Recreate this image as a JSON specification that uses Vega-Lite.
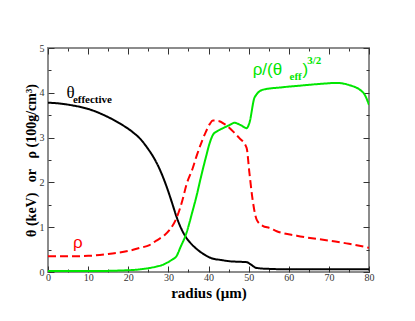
{
  "$schema": "https://vega.github.io/schema/vega-lite/v6.json",
  "width": 321,
  "height": 224,
  "autosize": "none",
  "padding": {"left": 48, "top": 48, "right": 46, "bottom": 49},
  "background": "white",
  "config": {
    "view": {"stroke": "#8c8c8c", "strokeWidth": 2},
    "axis": {"grid": false, "domain": false, "tickColor": "#333", "labelColor": "#333", "labelFont": "Liberation Serif", "labelFontSize": 10, "titleFont": "Liberation Serif", "titleFontWeight": "bold", "titleColor": "black"}
  },
  "datasets": {
    "curves": [
      {"series": "theta", "r": 0, "v": 3.78}, {"series": "theta", "r": 3, "v": 3.76}, {"series": "theta", "r": 6, "v": 3.72}, {"series": "theta", "r": 10, "v": 3.64}, {"series": "theta", "r": 14, "v": 3.5}, {"series": "theta", "r": 18, "v": 3.31}, {"series": "theta", "r": 21, "v": 3.13}, {"series": "theta", "r": 23, "v": 2.97}, {"series": "theta", "r": 25, "v": 2.74}, {"series": "theta", "r": 26.5, "v": 2.53}, {"series": "theta", "r": 28, "v": 2.26}, {"series": "theta", "r": 29.5, "v": 1.92}, {"series": "theta", "r": 31, "v": 1.52}, {"series": "theta", "r": 32, "v": 1.24}, {"series": "theta", "r": 33, "v": 1.01}, {"series": "theta", "r": 34.5, "v": 0.76}, {"series": "theta", "r": 36, "v": 0.6}, {"series": "theta", "r": 37.8, "v": 0.46}, {"series": "theta", "r": 39.5, "v": 0.36}, {"series": "theta", "r": 41, "v": 0.3}, {"series": "theta", "r": 43, "v": 0.27}, {"series": "theta", "r": 45.3, "v": 0.24}, {"series": "theta", "r": 47, "v": 0.23}, {"series": "theta", "r": 49.5, "v": 0.22}, {"series": "theta", "r": 50.5, "v": 0.17}, {"series": "theta", "r": 52, "v": 0.09}, {"series": "theta", "r": 55, "v": 0.07}, {"series": "theta", "r": 60, "v": 0.06}, {"series": "theta", "r": 70, "v": 0.06}, {"series": "theta", "r": 80, "v": 0.06},
      {"series": "rho", "r": 0, "v": 0.35}, {"series": "rho", "r": 5, "v": 0.35}, {"series": "rho", "r": 10, "v": 0.36}, {"series": "rho", "r": 15, "v": 0.4}, {"series": "rho", "r": 20, "v": 0.47}, {"series": "rho", "r": 23, "v": 0.54}, {"series": "rho", "r": 25.3, "v": 0.6}, {"series": "rho", "r": 27, "v": 0.7}, {"series": "rho", "r": 29, "v": 0.82}, {"series": "rho", "r": 30.3, "v": 0.94}, {"series": "rho", "r": 32, "v": 1.2}, {"series": "rho", "r": 33.5, "v": 1.6}, {"series": "rho", "r": 34.5, "v": 1.95}, {"series": "rho", "r": 36, "v": 2.3}, {"series": "rho", "r": 37, "v": 2.58}, {"series": "rho", "r": 38.5, "v": 2.95}, {"series": "rho", "r": 39.4, "v": 3.14}, {"series": "rho", "r": 40.3, "v": 3.3}, {"series": "rho", "r": 41.1, "v": 3.38}, {"series": "rho", "r": 42.5, "v": 3.37}, {"series": "rho", "r": 44, "v": 3.3}, {"series": "rho", "r": 45.3, "v": 3.21}, {"series": "rho", "r": 46.5, "v": 3.1}, {"series": "rho", "r": 47.7, "v": 2.99}, {"series": "rho", "r": 49.5, "v": 2.77}, {"series": "rho", "r": 50.2, "v": 2.21}, {"series": "rho", "r": 51, "v": 1.61}, {"series": "rho", "r": 52, "v": 1.17}, {"series": "rho", "r": 53.5, "v": 1.03}, {"series": "rho", "r": 55.3, "v": 0.98}, {"series": "rho", "r": 57, "v": 0.91}, {"series": "rho", "r": 62, "v": 0.81}, {"series": "rho", "r": 70, "v": 0.7}, {"series": "rho", "r": 75, "v": 0.63}, {"series": "rho", "r": 80, "v": 0.54},
      {"series": "ratio", "r": 0, "v": 0.02}, {"series": "ratio", "r": 10, "v": 0.02}, {"series": "ratio", "r": 20, "v": 0.04}, {"series": "ratio", "r": 23, "v": 0.06}, {"series": "ratio", "r": 25.3, "v": 0.09}, {"series": "ratio", "r": 27, "v": 0.12}, {"series": "ratio", "r": 28.6, "v": 0.16}, {"series": "ratio", "r": 29.5, "v": 0.2}, {"series": "ratio", "r": 31, "v": 0.28}, {"series": "ratio", "r": 32, "v": 0.35}, {"series": "ratio", "r": 33, "v": 0.55}, {"series": "ratio", "r": 34.5, "v": 0.87}, {"series": "ratio", "r": 36, "v": 1.35}, {"series": "ratio", "r": 37, "v": 1.69}, {"series": "ratio", "r": 38.2, "v": 2.15}, {"series": "ratio", "r": 39.4, "v": 2.58}, {"series": "ratio", "r": 40.3, "v": 2.88}, {"series": "ratio", "r": 41.1, "v": 3.06}, {"series": "ratio", "r": 42.3, "v": 3.15}, {"series": "ratio", "r": 43.6, "v": 3.21}, {"series": "ratio", "r": 45, "v": 3.27}, {"series": "ratio", "r": 46.5, "v": 3.33}, {"series": "ratio", "r": 48, "v": 3.28}, {"series": "ratio", "r": 49.5, "v": 3.21}, {"series": "ratio", "r": 50.2, "v": 3.33}, {"series": "ratio", "r": 51.5, "v": 3.9}, {"series": "ratio", "r": 53.6, "v": 4.07}, {"series": "ratio", "r": 58, "v": 4.12}, {"series": "ratio", "r": 62.8, "v": 4.16}, {"series": "ratio", "r": 68, "v": 4.2}, {"series": "ratio", "r": 71.9, "v": 4.22}, {"series": "ratio", "r": 74.8, "v": 4.18}, {"series": "ratio", "r": 78.6, "v": 4.0}, {"series": "ratio", "r": 80, "v": 3.73}
    ],
    "labels": [
      {"key": "theta", "text": "θ", "r": 4.6, "v": 4.0},
      {"key": "effective", "text": "effective", "r": 6.2, "v": 3.83},
      {"key": "rho", "text": "ρ", "r": 6.2, "v": 0.65},
      {"key": "g1", "text": "ρ/(θ", "r": 51.0, "v": 4.5},
      {"key": "g2", "text": "eff", "r": 60.2, "v": 4.35},
      {"key": "g3", "text": ")", "r": 63.4, "v": 4.5},
      {"key": "g4", "text": "3/2", "r": 64.6, "v": 4.7}
    ]
  },
  "layer": [
    {
      "data": {"name": "curves"},
      "mark": {"type": "line", "strokeWidth": 2, "interpolate": "monotone", "clip": true},
      "encoding": {
        "x": {"field": "r", "type": "quantitative", "scale": {"domain": [0, 80], "nice": false},
          "axis": {"orient": "bottom", "title": "radius (μm)", "titleFontSize": 15, "titleBaseline": "middle", "titleY": 20,
            "values": [0,5,10,15,20,25,30,35,40,45,50,55,60,65,70,75,80],
            "labelExpr": "datum.value % 10 === 0 ? format(datum.value, 'd') : ''",
            "tickSize": {"condition": {"test": "datum.value % 10 === 0", "value": -6}, "value": -3},
            "labelPadding": 6, "labelFlush": false}},
        "y": {"field": "v", "type": "quantitative", "scale": {"domain": [0, 5], "nice": false},
          "axis": {"orient": "left", "title": "θ (keV) \u2002or\u2002 ρ (100g/cm³)", "titleFontSize": 14, "titleBaseline": "middle", "titleX": -17,
            "values": [0,0.5,1,1.5,2,2.5,3,3.5,4,4.5,5],
            "labelExpr": "datum.value % 1 === 0 ? format(datum.value, 'd') : ''",
            "tickSize": {"condition": {"test": "datum.value % 1 === 0", "value": -6}, "value": -3},
            "labelPadding": 10, "labelFlush": false}},
        "color": {"field": "series", "type": "nominal", "scale": {"domain": ["theta", "rho", "ratio"], "range": ["#000000", "#ff0000", "#00e600"]}, "legend": null},
        "strokeDash": {"field": "series", "type": "nominal", "scale": {"domain": ["theta", "rho", "ratio"], "range": [[1, 0], [8, 4], [1, 0]]}, "legend": null},
        "order": {"field": "r", "type": "quantitative"}
      }
    },
    {
      "data": {"name": "curves"},
      "mark": {"type": "point", "opacity": 0},
      "encoding": {
        "x": {"field": "r", "type": "quantitative", "scale": {"domain": [0, 80], "nice": false},
          "axis": {"orient": "top", "title": null, "labels": false,
            "values": [0,5,10,15,20,25,30,35,40,45,50,55,60,65,70,75,80],
            "tickSize": {"condition": {"test": "datum.value % 10 === 0", "value": -6}, "value": -3}}},
        "y": {"field": "v", "type": "quantitative", "scale": {"domain": [0, 5], "nice": false},
          "axis": {"orient": "right", "title": null, "labels": false,
            "values": [0,0.5,1,1.5,2,2.5,3,3.5,4,4.5,5],
            "tickSize": {"condition": {"test": "datum.value % 1 === 0", "value": -6}, "value": -3}}}
      }
    },
    {
      "data": {"name": "labels"},
      "transform": [{"filter": "datum.key === 'theta'"}],
      "mark": {"type": "text", "align": "left", "baseline": "middle", "font": "Liberation Serif", "fontSize": 17, "color": "black"},
      "encoding": {"x": {"field": "r", "type": "quantitative", "axis": null}, "y": {"field": "v", "type": "quantitative", "axis": null}, "text": {"field": "text"}}
    },
    {
      "data": {"name": "labels"},
      "transform": [{"filter": "datum.key === 'effective'"}],
      "mark": {"type": "text", "align": "left", "baseline": "middle", "font": "Liberation Serif", "fontWeight": "bold", "fontSize": 11, "color": "black"},
      "encoding": {"x": {"field": "r", "type": "quantitative", "axis": null}, "y": {"field": "v", "type": "quantitative", "axis": null}, "text": {"field": "text"}}
    },
    {
      "data": {"name": "labels"},
      "transform": [{"filter": "datum.key === 'rho'"}],
      "mark": {"type": "text", "align": "left", "baseline": "middle", "font": "Liberation Sans", "fontSize": 17, "color": "#ff0000"},
      "encoding": {"x": {"field": "r", "type": "quantitative", "axis": null}, "y": {"field": "v", "type": "quantitative", "axis": null}, "text": {"field": "text"}}
    },
    {
      "data": {"name": "labels"},
      "transform": [{"filter": "datum.key === 'g1' || datum.key === 'g3'"}],
      "mark": {"type": "text", "align": "left", "baseline": "middle", "font": "Liberation Sans", "fontSize": 17, "color": "#00e600"},
      "encoding": {"x": {"field": "r", "type": "quantitative", "axis": null}, "y": {"field": "v", "type": "quantitative", "axis": null}, "text": {"field": "text"}}
    },
    {
      "data": {"name": "labels"},
      "transform": [{"filter": "datum.key === 'g2' || datum.key === 'g4'"}],
      "mark": {"type": "text", "align": "left", "baseline": "middle", "font": "Liberation Serif", "fontWeight": "bold", "fontSize": 11, "color": "#00e600"},
      "encoding": {"x": {"field": "r", "type": "quantitative", "axis": null}, "y": {"field": "v", "type": "quantitative", "axis": null}, "text": {"field": "text"}}
    }
  ],
  "resolve": {"axis": {"x": "independent", "y": "independent"}}
}
